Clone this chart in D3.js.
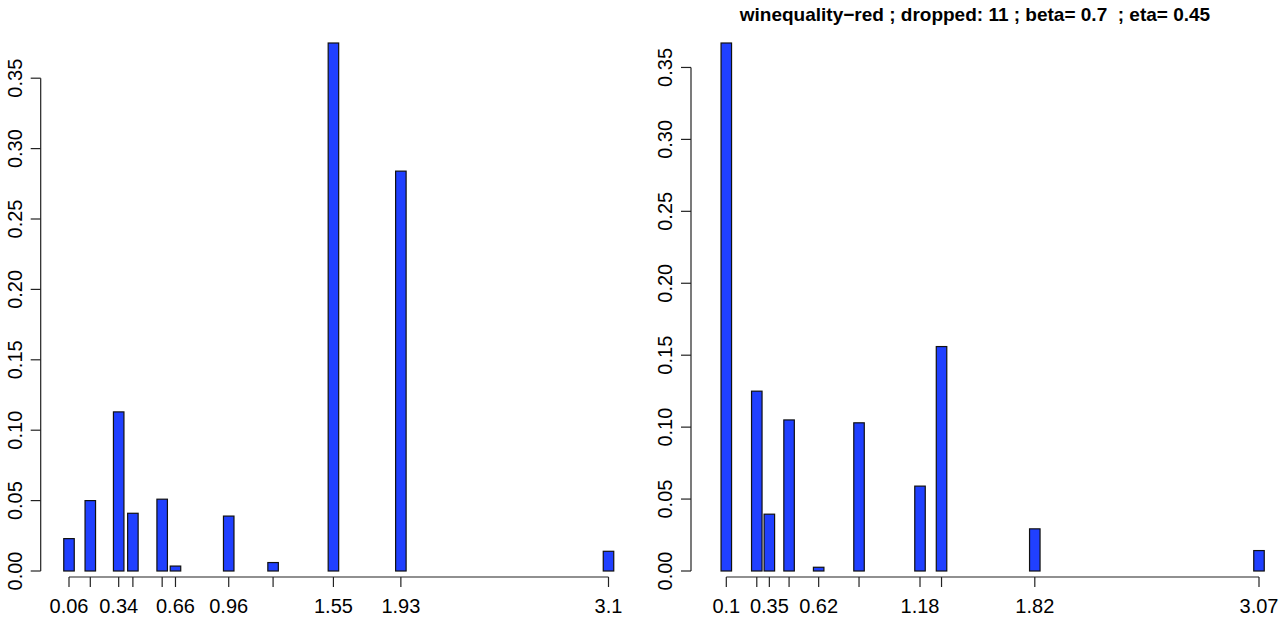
<!DOCTYPE html>
<html>
<head>
<meta charset="utf-8">
<script src="https://cdn.jsdelivr.net/npm/d3@7"></script>
<style>
  html, body { margin: 0; padding: 0; background: #fff; }
  svg { display: block; }
  text { font-family: "Liberation Sans", Arial, Helvetica, sans-serif; fill: #000; }
</style>
</head>
<body>
<svg id="chart" width="1280" height="620"></svg>
<script>
// ---- data ----
const leftPositions = [0.06, 0.18, 0.34, 0.42, 0.585, 0.66, 0.96, 1.21, 1.55, 1.93, 3.1];
const leftValues    = [0.023, 0.050, 0.113, 0.041, 0.051, 0.0035, 0.039, 0.006, 0.375, 0.284, 0.014];
const leftTickLabels = ["0.06", "", "0.34", "", "", "0.66", "0.96", "", "1.55", "1.93", "3.1"];

const rightPositions = [0.1, 0.27, 0.34, 0.45, 0.615, 0.84, 1.18, 1.3, 1.82, 3.07];
const rightValues    = [0.367, 0.125, 0.0395, 0.105, 0.0026, 0.103, 0.059, 0.156, 0.0293, 0.0142];
const rightTickLabels = ["0.1", "", "0.35", "", "0.62", "", "1.18", "", "1.82", "3.07"];

const yTickValues = [0, 0.05, 0.10, 0.15, 0.20, 0.25, 0.30, 0.35];
const yTickLabels = ["0.00", "0.05", "0.10", "0.15", "0.20", "0.25", "0.30", "0.35"];

const titleText = "winequality\u2212red ; dropped: 11 ; beta= 0.7  ; eta= 0.45";

// ---- layout ----
const svg = d3.select("#chart");
const BAR_COLOR = "#2040ff";
const BAR_W = 10.5;

function panel(opts) {
  const { positions, values, tickLabels, xRange, yAxisX, title } = opts;
  const g = svg.append("g");
  const x = d3.scaleLinear()
    .domain(d3.extent(positions))
    .range(xRange);
  const y = d3.scaleLinear()
    .domain([0, d3.max(values)])
    .range([571, 43]);

  // bars
  g.selectAll("rect.bar")
    .data(positions.map((p, i) => ({ p, v: values[i] })))
    .enter().append("rect")
    .attr("class", "bar")
    .attr("x", d => x(d.p) - BAR_W / 2)
    .attr("width", BAR_W)
    .attr("y", d => y(d.v))
    .attr("height", d => y(0) - y(d.v))
    .attr("fill", BAR_COLOR)
    .attr("stroke", "#111")
    .attr("stroke-width", 1.2);

  // y axis (R style)
  const ya = g.append("g").attr("transform", `translate(${yAxisX},0)`);
  ya.append("line")
    .attr("x1", 0).attr("x2", 0)
    .attr("y1", y(yTickValues[0])).attr("y2", y(yTickValues[yTickValues.length - 1]))
    .attr("stroke", "#222").attr("stroke-width", 1.2);
  ya.selectAll("line.tick").data(yTickValues).enter().append("line")
    .attr("class", "tick")
    .attr("x1", -10).attr("x2", 0)
    .attr("y1", d => y(d)).attr("y2", d => y(d))
    .attr("stroke", "#222").attr("stroke-width", 1.2);
  ya.selectAll("text").data(yTickValues).enter().append("text")
    .attr("transform", d => `translate(-19,${y(d)}) rotate(-90)`)
    .attr("text-anchor", "middle")
    .attr("font-size", "20px")
    .text((d, i) => yTickLabels[i]);

  // x axis (R style)
  const AX_Y = 577;
  const xa = g.append("g");
  xa.append("line")
    .attr("x1", x(positions[0])).attr("x2", x(positions[positions.length - 1]))
    .attr("y1", AX_Y).attr("y2", AX_Y)
    .attr("stroke", "#222").attr("stroke-width", 1.2);
  xa.selectAll("line.tick").data(positions).enter().append("line")
    .attr("class", "tick")
    .attr("x1", d => x(d)).attr("x2", d => x(d))
    .attr("y1", AX_Y).attr("y2", AX_Y + 10)
    .attr("stroke", "#222").attr("stroke-width", 1.2);
  xa.selectAll("text").data(positions).enter().append("text")
    .attr("x", d => x(d))
    .attr("y", 613)
    .attr("text-anchor", "middle")
    .attr("font-size", "20px")
    .text((d, i) => tickLabels[i]);

  if (title) {
    svg.append("text")
      .attr("x", 975)
      .attr("y", 21)
      .attr("text-anchor", "middle")
      .attr("font-size", "19px")
      .attr("font-weight", "bold")
      .style("white-space", "pre")
      .text(title);
  }
}

panel({
  positions: leftPositions, values: leftValues, tickLabels: leftTickLabels,
  xRange: [69, 608.5], yAxisX: 40.7, title: null
});
panel({
  positions: rightPositions, values: rightValues, tickLabels: rightTickLabels,
  xRange: [726.3, 1259], yAxisX: 691, title: titleText
});
</script>
</body>
</html>
